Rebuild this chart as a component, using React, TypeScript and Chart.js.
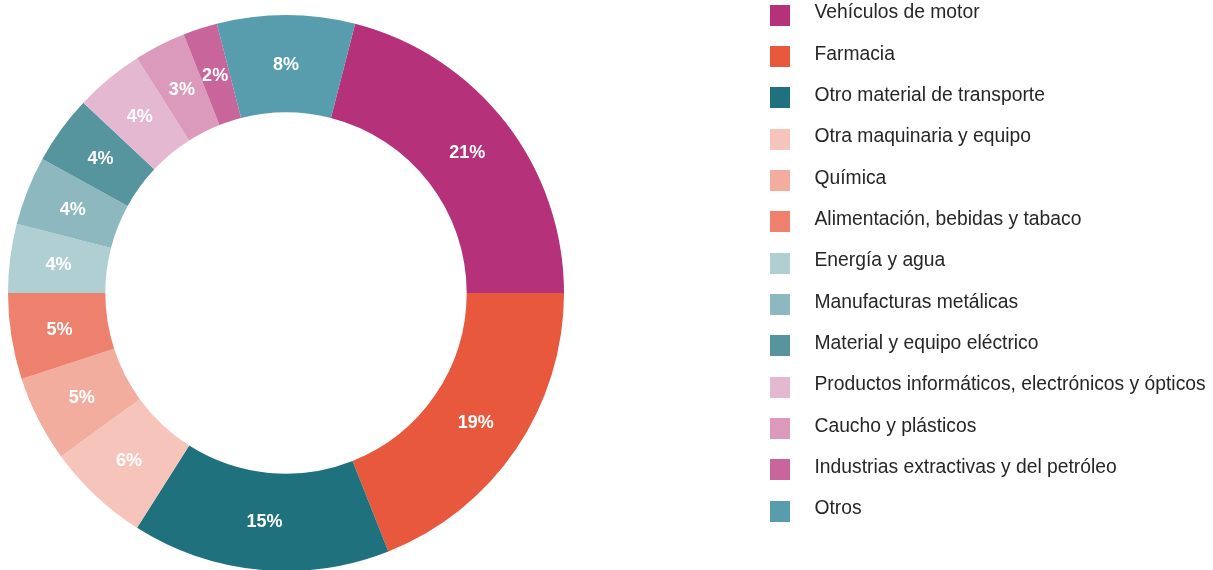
import React, { useEffect, useRef } from "react";
import { Chart, registerables } from "chart.js";

Chart.register(...registerables);

const categories: string[] = [
  "Vehículos de motor",
  "Farmacia",
  "Otro material de transporte",
  "Otra maquinaria y equipo",
  "Química",
  "Alimentación, bebidas y tabaco",
  "Energía y agua",
  "Manufacturas metálicas",
  "Material y equipo eléctrico",
  "Productos informáticos, electrónicos y ópticos",
  "Caucho y plásticos",
  "Industrias extractivas y del petróleo",
  "Otros",
];

const shares: number[] = [21, 19, 15, 6, 5, 5, 4, 4, 4, 4, 3, 2, 8];

const colors: string[] = [
  "#B5327A",
  "#E8583D",
  "#1F717D",
  "#F6C4BB",
  "#F3AD9E",
  "#EE816D",
  "#B0CFD3",
  "#8EB8BF",
  "#56949E",
  "#E4B8D0",
  "#DB99BB",
  "#C8659B",
  "#579DAD",
];

const W = 1213;
const H = 572;

const labelPlugin = {
  id: "pctLabels",
  afterDatasetsDraw(chart: any) {
    const ctx = chart.ctx;
    const meta = chart.getDatasetMeta(0);
    ctx.save();
    ctx.fillStyle = "#ffffff";
    ctx.font = "bold 18px 'Liberation Sans', Arial, sans-serif";
    ctx.textAlign = "center";
    ctx.textBaseline = "middle";
    meta.data.forEach((arc: any, i: number) => {
      const p = arc.tooltipPosition();
      ctx.fillText(shares[i] + "%", p.x, p.y + 1);
    });
    ctx.restore();
  },
};

const legendPlugin = {
  id: "sideLegend",
  afterDraw(chart: any) {
    const ctx = chart.ctx;
    ctx.save();
    ctx.font = "19.3px 'Liberation Sans', Arial, sans-serif";
    ctx.textAlign = "left";
    ctx.textBaseline = "alphabetic";
    const startY = 15.3;
    const step = 41.33;
    categories.forEach((name, i) => {
      const cy = startY + i * step;
      ctx.fillStyle = colors[i];
      ctx.fillRect(770, Math.round(cy - 10.5), 20, 21);
      ctx.fillStyle = "#262626";
      ctx.fillText(name, 814.5, cy + 3);
    });
    ctx.restore();
  },
};

export default function App() {
  const ref = useRef<HTMLCanvasElement | null>(null);

  useEffect(() => {
    if (!ref.current) return;
    const chart = new Chart(ref.current, {
      type: "doughnut",
      data: {
        labels: categories,
        datasets: [
          {
            data: shares,
            backgroundColor: colors,
            borderWidth: 0,
            hoverOffset: 0,
          },
        ],
      },
      options: {
        responsive: false,
        animation: false,
        rotation: 14.4,
        cutout: "65%",
        layout: { padding: { left: 8, top: 15, right: W - 564, bottom: 1 } },
        plugins: {
          legend: { display: false },
          tooltip: { enabled: false },
        },
      },
      plugins: [labelPlugin, legendPlugin],
    });
    return () => chart.destroy();
  }, []);

  return (
    <div
      style={{
        position: "fixed",
        left: 0,
        top: 0,
        width: W,
        height: 570,
        overflow: "hidden",
        background: "#ffffff",
      }}
    >
      <canvas ref={ref} width={W} height={H} style={{ display: "block", width: W, height: H }} />
    </div>
  );
}
